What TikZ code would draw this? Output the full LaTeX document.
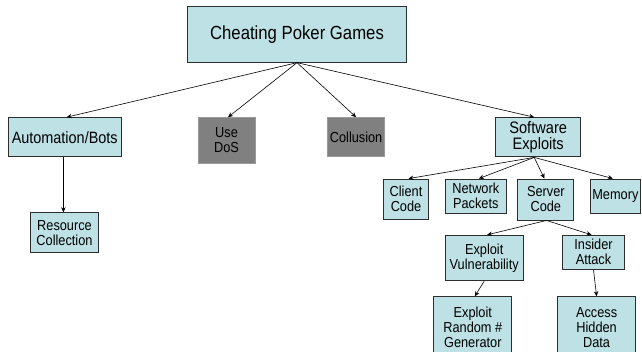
\documentclass[tikz,border=0pt]{standalone}
\usepackage{fontspec}
\setmainfont{Liberation Sans}[FakeStretch=0.88]
\usetikzlibrary{arrows.meta}
\definecolor{boxfill}{HTML}{BDE1E4}
\definecolor{boxline}{HTML}{2E2E2E}
\definecolor{grayfill}{HTML}{808080}
\definecolor{grayline}{HTML}{9A9A9A}
\tikzset{
  box/.style={draw=boxline, fill=boxfill, line width=0.9pt, inner sep=0pt, align=center,
    font=\fontsize{14.5}{15}\selectfont},
  graybox/.style={box, draw=grayline, fill=grayfill},
  conn/.style={line width=0.6pt, draw=black, -{Stealth[length=5pt,width=4.5pt]}},
}
\begin{document}
\begin{tikzpicture}[x=1pt,y=-1pt]
\useasboundingbox (0,0) rectangle (642,352);
\clip (0,0) rectangle (642,352);
\fill[white] (0,0) rectangle (642,352);
% level 0
\node[box, minimum width=219pt, minimum height=56pt, font=\fontsize{19}{21}\selectfont] (root) at (297,34.2) {Cheating Poker Games};
% level 1
\node[box, minimum width=113pt, minimum height=39.3pt, font=\fontsize{16.4}{17}\selectfont] (auto) at (64.7,137.3) {Automation/Bots};
\node[graybox, minimum width=57pt, minimum height=45.6pt] (dos) at (226.5,140.5) {Use\\DoS};
\node[graybox, minimum width=57.3pt, minimum height=39.3pt] (coll) at (356.1,137.3) {Collusion};
\node[box, minimum width=85pt, minimum height=39.3pt, font=\fontsize{16.6}{16.5}\selectfont] (sw) at (538.2,137.3) {Software\\Exploits};
% level 2
\node[box, minimum width=67.5pt, minimum height=40pt] (res) at (64.5,232.7) {Resource\\Collection};
\node[box, minimum width=45pt, minimum height=40.3pt] (client) at (406,199.2) {Client\\Code};
\node[box, minimum width=61.7pt, minimum height=34.3pt] (net) at (475.8,196.2) {Network\\Packets};
\node[box, minimum width=56pt, minimum height=41pt] (server) at (545.8,199.5) {Server\\Code};
\node[box, minimum width=50.3pt, minimum height=34pt] (mem) at (615.4,196) {Memory};
% level 3
\node[box, minimum width=78.5pt, minimum height=45.4pt] (vuln) at (484.2,258) {Exploit\\Vulnerability};
\node[box, minimum width=61.4pt, minimum height=34pt] (insider) at (593.5,252.3) {Insider\\Attack};
% level 4
\node[box, minimum width=77.8pt, minimum height=61pt] (rng) at (472.8,327.2) {Exploit\\Random \#\\Generator};
\node[box, minimum width=78pt, minimum height=61pt] (hidden) at (596.6,327.2) {Access\\Hidden\\Data};
% connectors
\draw[conn] (root.south) -- ([xshift=2pt]auto.north);
\draw[conn] (root.south) -- ([xshift=1.5pt]dos.north);
\draw[conn] (root.south) -- (coll.north);
\draw[conn] (root.south) -- ([xshift=-4pt]sw.north);
\draw[conn] ([xshift=-1.3pt]auto.south) -- ([xshift=-1.1pt]res.north);
\draw[conn] ([xshift=-4pt]sw.south) -- ([xshift=2.5pt]client.north);
\draw[conn] ([xshift=-4pt]sw.south) -- ([xshift=3pt]net.north);
\draw[conn] ([xshift=-4pt]sw.south) -- ([xshift=-1.4pt]server.north);
\draw[conn] ([xshift=-4pt]sw.south) -- ([xshift=-2.6pt]mem.north);
\draw[conn] ([xshift=0.7pt]server.south) -- ([xshift=2.9pt]vuln.north);
\draw[conn] ([xshift=0.7pt]server.south) -- ([xshift=-2pt]insider.north);
\draw[conn] (vuln.south) -- ([xshift=2pt]rng.north);
\draw[conn] (insider.south) -- (hidden.north);
\end{tikzpicture}
\end{document}
